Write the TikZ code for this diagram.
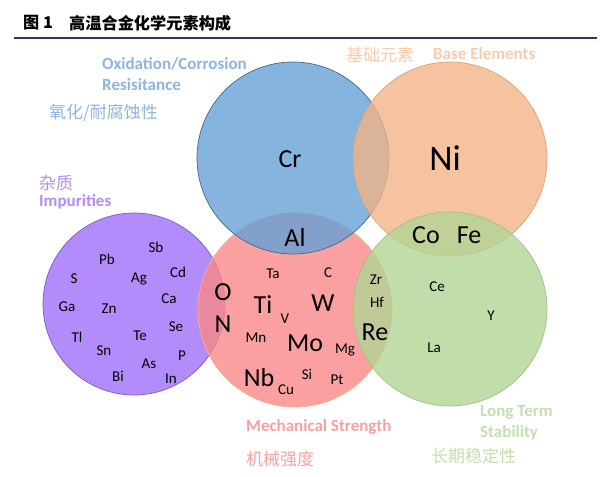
\documentclass[tikz,border=0pt]{standalone}
\usepackage{fontspec}
\setmainfont{Carlito}
\newfontfamily\cjk{Noto Sans CJK SC}
\definecolor{cblue}{RGB}{102,161,214}
\definecolor{corange}{RGB}{242,180,136}
\definecolor{cgreen}{RGB}{178,213,149}
\definecolor{cpink}{RGB}{249,136,136}
\definecolor{cpurple}{RGB}{159,111,249}
\definecolor{lblue}{RGB}{141,180,226}
\definecolor{lorange}{RGB}{248,203,173}
\definecolor{lgreen}{RGB}{195,222,175}
\definecolor{lpink}{RGB}{248,160,160}
\definecolor{lpurple}{RGB}{179,140,248}
\definecolor{navy}{RGB}{47,52,100}
\begin{document}
\begin{tikzpicture}[x=1pt,y=-1pt,
  ring/.style={fill opacity=0.8, line width=0.7pt},
  small/.style={font=\fontsize{15}{18}\selectfont, inner sep=0pt},
  big/.style={font=\fontsize{26}{30}\selectfont, inner sep=0pt},
  lab/.style={font=\fontsize{17}{20}\selectfont\bfseries, anchor=west, inner sep=0pt},
  clab/.style={font=\cjk\fontsize{17}{20}\selectfont, anchor=west, inner sep=0pt},
  ttl/.style={anchor=west, inner sep=0pt, font=\cjk\bfseries\fontsize{16.2}{19}\selectfont}]
\useasboundingbox (0,0) rectangle (606,477);
% title
\node[ttl] (t1) at (23,23) {图 1};
\node[ttl] (t2) at (69,23) {高温合金化学元素构成};
\draw[navy, line width=2.6pt] (14,38) -- (597,38);
% circles
\draw[ring, fill=cpurple, draw=cpurple!80!black] (134,304) circle[radius=91pt];
\draw[ring, fill=cpink, draw=corange!90!cpink] (295,310) circle[radius=97pt];
\draw[ring, fill=cblue, draw=cblue!65!black] (293,158) circle[radius=96pt];
\draw[ring, fill=corange, draw=corange!90!black] (450,159) circle[radius=97pt];
\draw[ring, fill=cgreen, draw=cgreen!90!black] (450,309) circle[radius=97pt];
% labels
\node[lab, lblue] (ox1) at (102,64) {Oxidation/Corrosion};
\node[lab, lblue] (ox2) at (102,85) {Resisitance};
\node[clab, lblue] (ox3) at (49,113) {氧化/耐腐蚀性};
\node[clab, lorange] (be1) at (346,55) {基础元素};
\node[lab, lorange] (be2) at (433,54) {Base Elements};
\node[clab, lpurple] (im1) at (39,183) {杂质};
\node[lab, lpurple] (im2) at (39,202) {Impurities};
\node[lab, lpink] (ms1) at (246,427) {Mechanical Strength};
\node[clab, lpink] (ms2) at (246,459) {机械强度};
\node[lab, lgreen] (lt1) at (480,412) {Long Term};
\node[lab, lgreen] (lt2) at (480,433) {Stability};
\node[clab, lgreen] (lt3) at (431,456) {长期稳定性};
% big elements
\node[big] (Cr) at (290,159) {Cr};
\node[big, font=\fontsize{36}{40}\selectfont] (Ni) at (445,158) {Ni};
\node[big] (Al) at (295,237) {Al};
\node[big] (Co) at (426,235) {Co};
\node[big] (Fe) at (469,235) {Fe};
\node[big] (O) at (223,292) {O};
\node[big] (N) at (223,324) {N};
\node[big] (Ti) at (263,305) {Ti};
\node[big] (W) at (323,303) {W};
\node[big] (Mo) at (305,343) {Mo};
\node[big] (Nb) at (259,378) {Nb};
\node[big] (Re) at (375,332) {Re};
% small elements
\node[small] (Ta) at (273,274) {Ta};
\node[small] (C) at (328,273) {C};
\node[small] (V) at (285,319) {V};
\node[small] (Mn) at (256,338) {Mn};
\node[small] (Mg) at (345,350) {Mg};
\node[small] (Si) at (307,374) {Si};
\node[small] (Pt) at (337,380) {Pt};
\node[small] (Cu) at (286,390) {Cu};
\node[small] (Zr) at (376,280) {Zr};
\node[small] (Hf) at (377,302) {Hf};
\node[small] (Ce) at (437,287) {Ce};
\node[small] (Y) at (491,316) {Y};
\node[small] (La) at (434,348) {La};
\node[small] (Sb) at (156,247) {Sb};
\node[small] (Pb) at (107,259) {Pb};
\node[small] (S) at (74,279) {S};
\node[small] (Ag) at (139,279) {Ag};
\node[small] (Cd) at (178,272) {Cd};
\node[small] (Ga) at (67,307) {Ga};
\node[small] (Zn) at (109,309) {Zn};
\node[small] (Ca) at (169,299) {Ca};
\node[small] (Tl) at (77,337) {Tl};
\node[small] (Te) at (140,336) {Te};
\node[small] (Se) at (176,327) {Se};
\node[small] (Sn) at (104,351) {Sn};
\node[small] (As) at (149,364) {As};
\node[small] (P) at (182,356) {P};
\node[small] (Bi) at (118,376) {Bi};
\node[small] (In) at (171,379) {In};
\end{tikzpicture}
\end{document}
